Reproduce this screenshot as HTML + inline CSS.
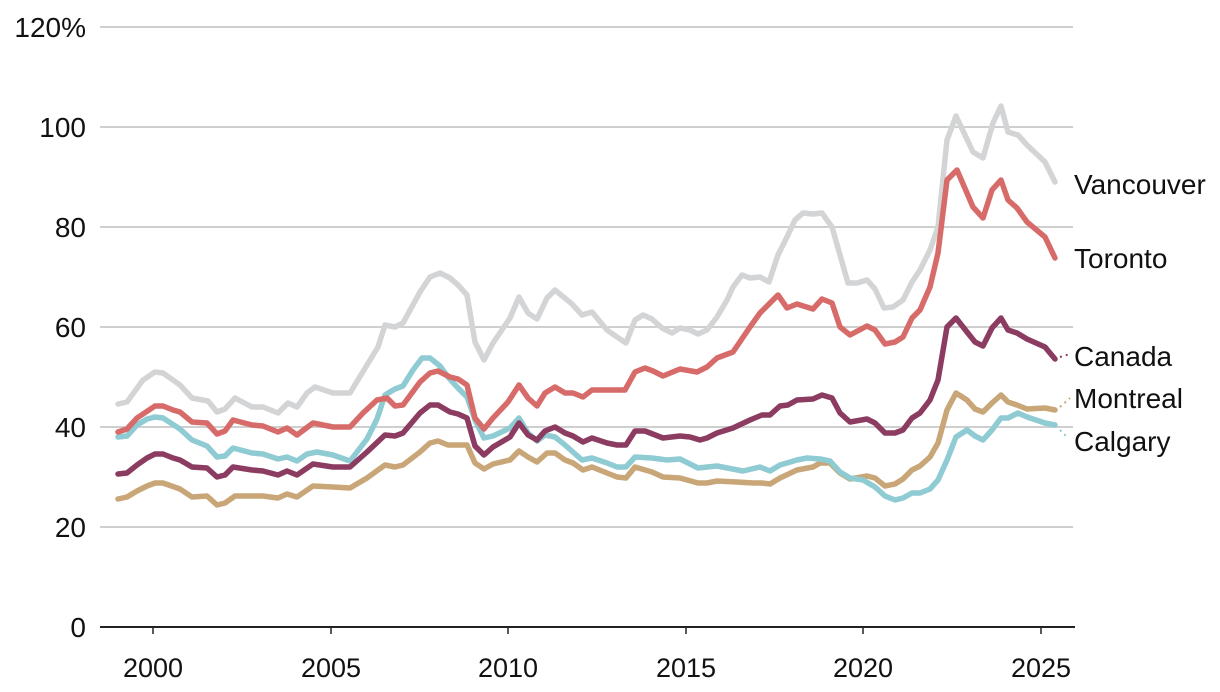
<!DOCTYPE html>
<html><head><meta charset="utf-8"><style>
html,body{margin:0;padding:0;background:#fff;}
svg{display:block;font-family:"Liberation Sans",sans-serif;}
</style></head><body>
<svg width="1220" height="692" viewBox="0 0 1220 692">
<g stroke="#cfcfcf" stroke-width="2">
<line x1="100" x2="1073" y1="27" y2="27"/>
<line x1="100" x2="1073" y1="127" y2="127"/>
<line x1="100" x2="1073" y1="227" y2="227"/>
<line x1="100" x2="1073" y1="327" y2="327"/>
<line x1="100" x2="1073" y1="427" y2="427"/>
<line x1="100" x2="1073" y1="527" y2="527"/>
</g>
<line x1="100" x2="1075" y1="627" y2="627" stroke="#222" stroke-width="2"/>
<g stroke="#222" stroke-width="1.5">
<line x1="153" x2="153" y1="627" y2="634"/><line x1="331" x2="331" y1="627" y2="634"/><line x1="508" x2="508" y1="627" y2="634"/><line x1="686" x2="686" y1="627" y2="634"/><line x1="863" x2="863" y1="627" y2="634"/><line x1="1041" x2="1041" y1="627" y2="634"/>
</g>
<g font-size="28" fill="#111" text-anchor="end">
<text x="86" y="37">120%</text>
<text x="86" y="137">100</text>
<text x="86" y="237">80</text>
<text x="86" y="337">60</text>
<text x="86" y="437">40</text>
<text x="86" y="537">20</text>
<text x="86" y="637">0</text>
</g>
<g font-size="27" fill="#111" text-anchor="middle">
<text x="153" y="677">2000</text><text x="331" y="677">2005</text><text x="508" y="677">2010</text><text x="686" y="677">2015</text><text x="863" y="677">2020</text><text x="1041" y="677">2025</text>
</g>
<g fill="none" stroke-width="5.5" stroke-linejoin="round" stroke-linecap="round">
<polyline stroke="#d3d4d6" points="118,404 127,402 143,380 155,372 163,373 180,385 192,398 208,401 217,412 225,409 235,398 252,407 263,407 278,413 288,403 297,407 307,393 315,387 333,393 350,393 367,365 378,347 385,325 395,327 403,323 420,292 430,277 440,273 450,278 458,285 467,295 475,342 484,360 493,343 510,318 519,297 528,313 537,319 547,298 555,290 572,304 582,315 592,312 607,330 617,337 626,343 635,320 643,315 652,319 662,328 672,333 680,328 690,330 698,334 707,330 717,317 727,300 733,287 742,275 750,278 760,277 769,282 778,255 787,237 795,220 803,213 813,214 822,213 832,227 840,255 848,283 857,283 867,280 875,289 884,308 893,307 903,300 912,282 920,270 930,250 938,227 947,140 956,116 973,152 983,158 993,123 1001,106 1008,132 1018,135 1027,145 1045,162 1055,182"/>
<polyline stroke="#c9a677" points="118,499 127,497 137,491 147,486 155,483 163,483 180,489 192,497 207,496 217,505 225,503 235,496 252,496 263,496 278,498 287,494 297,497 313,486 333,487 350,488 367,478 385,465 395,467 403,465 420,452 430,443 438,441 448,445 467,445 475,463 484,469 493,464 510,460 519,451 528,457 537,462 547,453 555,453 565,460 573,463 583,470 592,467 607,473 617,477 626,478 635,467 652,472 663,477 680,478 698,483 707,483 717,481 737,482 753,483 762,483 770,484 780,478 797,470 813,467 820,463 830,463 840,473 850,479 867,476 875,478 885,486 895,484 903,479 912,470 920,466 930,457 938,443 947,410 956,393 967,400 975,409 983,412 992,403 1001,395 1008,402 1017,405 1027,409 1045,408 1055,410"/>
<polyline stroke="#8ecbd3" points="118,437 127,436 137,425 147,419 155,417 163,418 180,429 192,440 207,446 217,457 225,456 233,448 252,453 263,454 278,459 287,457 297,461 307,454 317,452 333,455 350,461 367,439 377,419 385,395 395,389 403,386 413,370 422,358 430,358 440,366 448,377 458,388 467,397 475,420 484,438 493,436 510,428 519,418 528,433 537,441 545,435 555,437 565,445 582,460 592,458 607,463 617,467 626,467 635,457 652,458 667,460 680,459 698,468 717,466 743,471 760,467 770,471 780,465 797,460 807,458 820,459 830,461 840,472 850,478 863,480 875,487 885,496 895,500 903,498 912,493 920,493 930,489 938,480 947,460 956,437 967,430 975,436 983,440 992,430 1001,418 1008,418 1018,413 1027,417 1045,423 1055,425"/>
<polyline stroke="#d76b6a" points="118,432 127,429 137,418 155,406 163,406 173,410 180,412 192,422 207,423 217,434 225,431 233,420 252,425 263,426 278,432 287,428 297,435 313,423 333,427 350,427 363,413 377,400 387,398 395,406 403,405 420,382 430,373 438,371 450,377 458,379 467,385 475,418 484,429 493,418 508,402 519,385 528,398 537,406 545,393 555,387 565,393 573,393 583,397 592,390 625,390 635,372 645,368 653,371 663,376 680,369 697,372 707,367 717,358 733,352 750,327 760,313 778,295 787,308 797,304 813,309 822,299 832,303 840,327 850,335 867,326 875,330 885,344 895,342 903,337 912,318 920,310 930,287 938,253 947,180 957,170 973,207 983,218 992,190 1001,180 1008,200 1017,208 1027,222 1045,237 1055,258"/>
<polyline stroke="#8b3c60" points="118,474 127,473 137,465 147,458 155,454 163,454 173,458 180,460 192,467 207,468 217,477 225,475 233,467 252,470 263,471 278,475 287,471 297,475 313,464 333,467 350,467 367,452 385,435 395,436 403,433 420,413 430,405 438,405 450,412 458,414 467,418 475,446 484,455 493,447 510,437 519,423 528,435 537,440 545,431 555,427 565,433 573,436 583,442 592,438 607,443 617,445 626,445 635,431 645,431 663,438 680,436 690,437 700,440 707,438 717,433 733,428 750,420 762,415 770,415 780,406 788,405 797,400 813,399 822,395 832,398 840,413 850,422 867,419 875,423 885,433 895,433 903,430 912,418 920,413 930,400 938,380 947,327 956,318 967,332 975,342 983,346 992,328 1001,318 1008,330 1017,333 1027,339 1045,347 1055,359"/>
</g>
<g stroke-width="2" stroke-dasharray="2,4" fill="none">
<line x1="1060" y1="357" x2="1070" y2="354" stroke="#8b3c60"/>
<line x1="1060" y1="407" x2="1070" y2="398" stroke="#c9a677"/>
<line x1="1060" y1="430" x2="1068" y2="438" stroke="#8ecbd3"/>
</g>
<g font-size="28" fill="#111">
<text x="1074" y="194">Vancouver</text>
<text x="1074" y="268">Toronto</text>
<text x="1074" y="366">Canada</text>
<text x="1074" y="408">Montreal</text>
<text x="1074" y="451">Calgary</text>
</g>
</svg>
</body></html>
